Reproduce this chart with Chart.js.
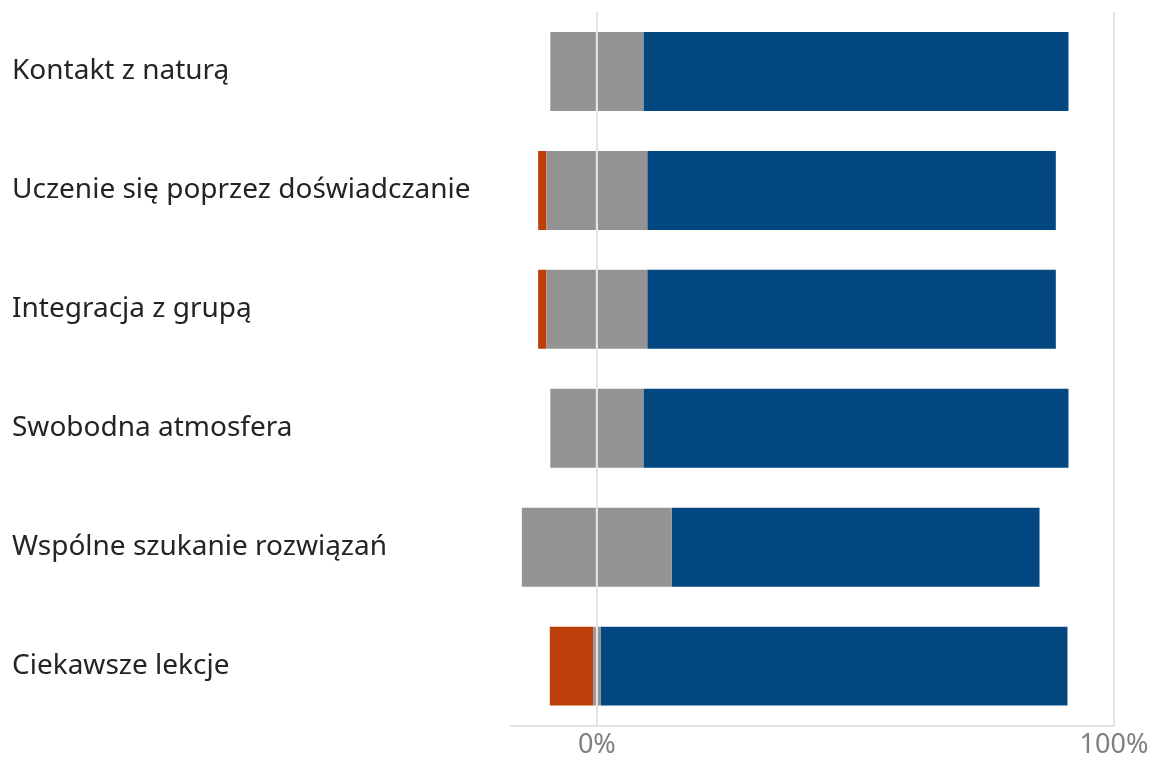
<!DOCTYPE html>
<html>
<head>
<meta charset="utf-8">
<script src="https://cdn.jsdelivr.net/npm/chart.js@4"></script>
<style>
  html, body { margin: 0; padding: 0; background: #fff; }
  #wrap { width: 1153px; height: 762px; }
</style>
</head>
<body>
<div id="wrap"><canvas id="likert_chart"></canvas></div>
<script>
var categories = ['Kontakt z naturą', 'Uczenie się poprzez doświadczanie', 'Integracja z grupą',
  'Swobodna atmosfera', 'Wspólne szukanie rozwiązań', 'Ciekawsze lekcje'];
var negative = [0, 1.6, 1.6, 0, 0, 8.4];
var neutral = [18, 19.5, 19.5, 18, 29, 1.4];
var positive = [82.2, 79, 79, 82.2, 71.1, 90.3];
var x_ticks = [0, 100];

var half_neg = neutral.map(function (v) { return -v / 2; });
var half_pos = neutral.map(function (v) { return v / 2; });
var neg_vals = negative.map(function (v) { return -v; });

const data_likert = {
  labels: categories,
  datasets: [
    { label: 'neutral-', data: half_neg, backgroundColor: '#939393' },
    { label: 'negative', data: neg_vals, backgroundColor: '#bf3f0a' },
    { label: 'neutral+', data: half_pos, backgroundColor: '#939393' },
    { label: 'positive', data: positive, backgroundColor: '#02477f' }
  ]
};

const config_likert = {
  type: 'bar',
  data: data_likert,
  options: {
    indexAxis: 'y',
    responsive: true,
    maintainAspectRatio: false,
    animation: false,
    layout: { padding: { left: 12, right: 39, top: 12, bottom: -4 } },
    datasets: { bar: { categoryPercentage: 1, barPercentage: 0.664, borderWidth: 0 } },
    plugins: { legend: { display: false }, tooltip: { enabled: false } },
    scales: {
      x: {
        stacked: true,
        min: -16.6,
        max: 100,
        afterBuildTicks: function (axis) {
          axis.ticks = x_ticks.map(function (v) { return { value: v }; });
        },
        grid: { color: '#e3e3e3', lineWidth: 2, drawTicks: false, z: 1 },
        border: { display: true, color: '#e3e3e3', width: 2, z: 2 },
        ticks: {
          padding: 4,
          color: '#7f7f7f',
          font: { family: 'Noto Sans', size: 27 },
          callback: function (v) { return v + '%'; }
        }
      },
      y: {
        stacked: true,
        afterFit: function (axis) {
          axis.width = 499;
          axis.paddingTop = 0;
          axis.paddingBottom = 0;
        },
        grid: { display: false },
        border: { display: false },
        ticks: {
          crossAlign: 'far',
          color: '#252423',
          font: { family: 'Noto Sans', size: 28 }
        }
      }
    }
  }
};

const myChartLikert = new Chart(document.getElementById('likert_chart'), config_likert);
</script>
</body>
</html>
